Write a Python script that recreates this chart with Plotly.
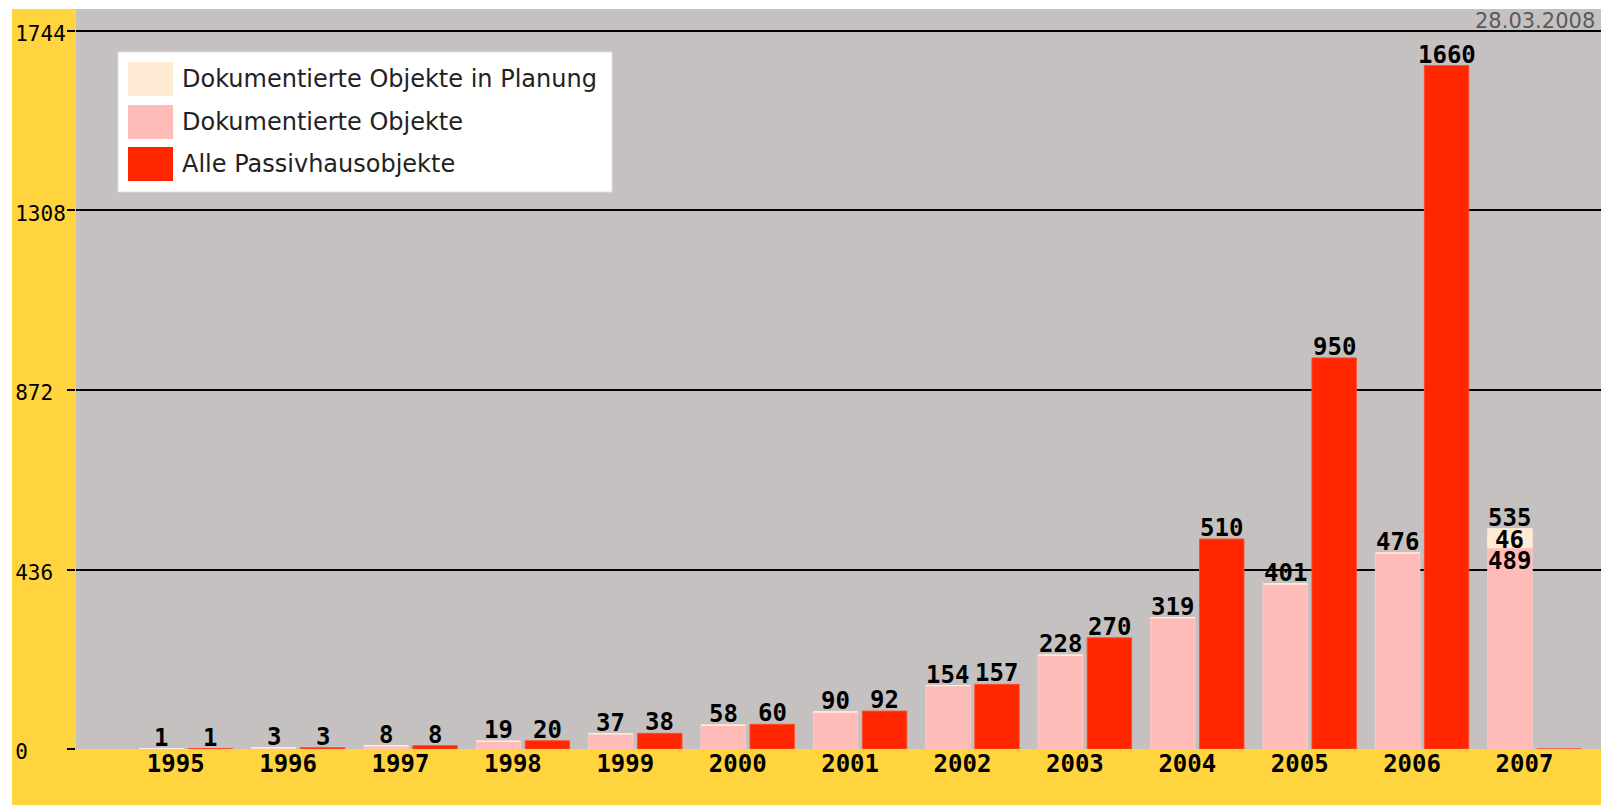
import plotly.graph_objects as go

# ---------------- data ----------------
years = ["1995", "1996", "1997", "1998", "1999", "2000", "2001",
         "2002", "2003", "2004", "2005", "2006", "2007"]
dokumentiert = [1, 3, 8, 19, 37, 58, 90, 154, 228, 319, 401, 476, 489]
in_planung = [0, 0, 0, 0, 0, 0, 0, 0, 0, 0, 0, 0, 46]
alle = [1, 3, 8, 20, 38, 60, 92, 157, 270, 510, 950, 1660, 0]
y_ticks = [0, 436, 872, 1308, 1744]
series_names = ["Dokumentierte Objekte in Planung",
                "Dokumentierte Objekte",
                "Alle Passivhausobjekte"]
date_label = "28.03.2008"

# ---------------- style ----------------
W, H = 1601, 805
ML, MR, MT, MB = 76, 0, 9, 56
PW, PH = W - ML - MR, H - MT - MB
YELLOW = "#FFD43F"
GRAY = "#C6C1C1"
BEIGE = "#FFEBD3"
PINK = "#FFBBB8"
RED = "#FF2600"
colors = [BEIGE, PINK, RED]
MONO = "DejaVu Sans Mono"
SANS = "DejaVu Sans"

BW = 0.395          # bar width (category units)
SHIFT = 0.218       # bar centre offset from group centre


def pxx(px):
    return (px - ML) / PW


def pxy(py):
    return (H - MB - py) / PH


fig = go.Figure()

fig.add_bar(x=years, y=dokumentiert, name=series_names[1], offset=-SHIFT - BW / 2,
            width=BW, marker=dict(color=PINK, line=dict(color="#FFC8C4", width=1)),
            showlegend=False)
fig.add_bar(x=years, y=in_planung, base=dokumentiert, name=series_names[0],
            offset=-SHIFT - BW / 2, width=BW,
            marker=dict(color=BEIGE, line=dict(color="#FFF0DF", width=1)),
            showlegend=False)
fig.add_bar(x=years, y=alle, name=series_names[2], offset=SHIFT - BW / 2, width=BW,
            marker=dict(color=RED, line=dict(color="#FF4A2A", width=1)),
            showlegend=False)

# value labels
lab_font = dict(family=MONO, size=24, color="black", weight="bold")
anns = []
for i, (d, p, a) in enumerate(zip(dokumentiert, in_planung, alle)):
    xl = i - SHIFT
    xr = i + SHIFT
    if p > 0:
        anns.append(dict(x=xl, y=d, xref="x", yref="y", text=str(d), showarrow=False,
                         yanchor="top", yshift=2, font=lab_font, borderpad=0))
        anns.append(dict(x=xl, y=d + p / 2, xref="x", yref="y", text=str(p), showarrow=False,
                         yanchor="middle", yshift=-2, font=lab_font, borderpad=0))
        anns.append(dict(x=xl, y=d + p, xref="x", yref="y", text=str(d + p), showarrow=False,
                         yanchor="bottom", yshift=-4, font=lab_font, borderpad=0))
    else:
        anns.append(dict(x=xl, y=d, xref="x", yref="y", text=str(d), showarrow=False,
                         yanchor="bottom", yshift=-4, font=lab_font, borderpad=0))
    if a > 0:
        anns.append(dict(x=xr, y=a, xref="x", yref="y", text=str(a), showarrow=False,
                         yanchor="bottom", yshift=-4, font=lab_font, borderpad=0))

# date
anns.append(dict(x=pxx(1597), y=pxy(7), xref="paper", yref="paper", text=date_label,
                 showarrow=False, xanchor="right", yanchor="top",
                 font=dict(family=SANS, size=21, color="#5A5A5A")))

shapes = []
# white strips of the page border
shapes.append(dict(type="rect", xref="paper", yref="paper", x0=pxx(0), x1=1, y0=1, y1=pxy(0),
                   fillcolor="white", line=dict(width=0), layer="below"))
shapes.append(dict(type="rect", xref="paper", yref="paper", x0=pxx(0), x1=pxx(12),
                   y0=pxy(H), y1=pxy(0), fillcolor="white", line=dict(width=0), layer="below"))
# legend box (drawn manually)
shapes.append(dict(type="rect", xref="paper", yref="paper", x0=pxx(118), x1=pxx(612),
                   y0=pxy(192), y1=pxy(52), fillcolor="white",
                   line=dict(color="#E2DEDE", width=1), layer="above"))
row_tops = [62, 105, 147]
for k, (name, col) in enumerate(zip(series_names, colors)):
    t = row_tops[k]
    shapes.append(dict(type="rect", xref="paper", yref="paper", x0=pxx(128), x1=pxx(173),
                       y0=pxy(t + 34), y1=pxy(t), fillcolor=col,
                       line=dict(width=0), layer="above"))
    anns.append(dict(x=pxx(180), y=pxy(t + 17), xref="paper", yref="paper", text=name,
                     showarrow=False, xanchor="left", yanchor="middle",
                     font=dict(family=SANS, size=24, color="#222222")))

tick_text = [str(v) + "\u00a0" * (4 - len(str(v))) for v in y_ticks]

fig.update_layout(
    width=W, height=H, autosize=False,
    margin=dict(l=ML, r=MR, t=MT, b=MB, pad=0),
    paper_bgcolor=YELLOW, plot_bgcolor=GRAY,
    barmode="overlay", bargap=0,
    showlegend=False,
    annotations=anns, shapes=shapes,
    xaxis=dict(type="category", range=[-0.976, 12.592], showgrid=False, zeroline=False,
               showline=False, ticks="", tickfont=dict(family=MONO, size=24, color="black",
                                                      weight="bold"),
               ticklabelshift=-10, ticklabelstandoff=-2, fixedrange=True),
    yaxis=dict(range=[0, 1797.4], tickvals=y_ticks, ticktext=tick_text, showgrid=True,
               gridcolor="black", gridwidth=2, zeroline=False, showline=False,
               ticks="outside", ticklen=8, tickcolor="black", tickwidth=2,
               ticklabelstandoff=-3, ticklabelshift=3,
               tickfont=dict(family=MONO, size=21, color="black"), fixedrange=True),
)

fig.write_html("out.html", config={"displayModeBar": False, "staticPlot": True},
               post_script="document.body.style.margin='0';document.body.style.overflow='hidden';")
